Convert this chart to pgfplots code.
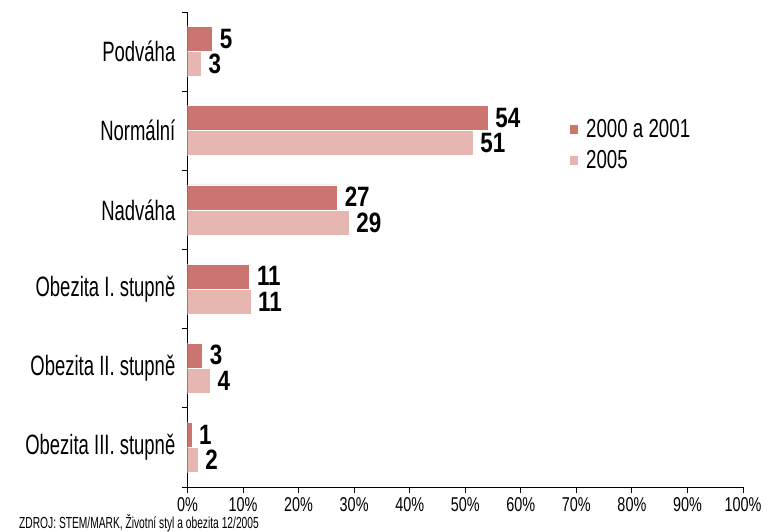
\documentclass[border=0pt]{standalone}
\usepackage{pgfplots}
\pgfplotsset{compat=1.18}
\usepackage{pgfplotstable}
\usepackage{fontspec}
\setmainfont{Liberation Sans}
\newfontfamily\fcat{Liberation Sans}[FakeStretch=0.66]
\newfontfamily\ftick{Liberation Sans}[FakeStretch=0.72]
\newfontfamily\fval{Liberation Sans}[FakeStretch=0.8]
\newfontfamily\fsrc{Liberation Sans}[FakeStretch=0.64]
\definecolor{darkc}{RGB}{204,116,112}
\definecolor{lightc}{RGB}{230,182,177}

\pgfplotstableread{
y x lab
5 4.5 5
4 54.1 54
3 27.0 27
2 11.2 11
1 2.7 3
0 0.8 1
}\dataA
\pgfplotstableread{
y x lab
5 2.5 3
4 51.4 51
3 29.1 29
2 11.4 11
1 4.1 4
0 1.9 2
}\dataB

\begin{document}
\begin{tikzpicture}
\begin{axis}[
  at={(187.5pt,44pt)}, anchor=south west,
  scale only axis, width=555.5pt, height=475pt,
  xmin=0, xmax=100, ymin=-0.5, ymax=5.5,
  axis x line*=bottom, axis y line*=left,
  axis line style={black, line width=0.9pt},
  every tick/.style={black, line width=0.9pt},
  tick align=outside, major tick length=6pt,
  xtick={0,10,...,100},
  xticklabels={0\%,10\%,20\%,30\%,40\%,50\%,60\%,70\%,80\%,90\%,100\%},
  xticklabel style={font=\ftick\fontsize{20}{20}\selectfont, inner sep=0pt, yshift=-4pt},
  ytick={-0.5,0.5,...,5.5},
  y tick label as interval,
  yticklabels={Obezita III. stupně, Obezita II. stupně, Obezita I. stupně, Nadváha, Normální, Podváha},
  yticklabel style={font=\fcat\fontsize{28}{28}\selectfont, anchor=east, inner sep=0pt, xshift=-6pt},
  legend style={draw=none, fill=none, at={(rel axis cs:0.683,0.78)}, anchor=north west,
    font=\ftick\fontsize{26}{26}\selectfont, row sep=9pt, column sep=7pt,
    nodes={inner sep=1pt}},
  legend cell align=left,
  legend image code/.code={\fill[#1,draw=none] (0pt,-4.5pt) rectangle (8pt,4.5pt);},
  nodes near coords,
  point meta=explicit symbolic,
  every node near coord/.append style={font=\fval\bfseries\fontsize{28}{28}\selectfont, black, anchor=west, inner sep=0pt, xshift=7pt},
]
\addplot[xbar, fill=darkc, draw=white, line width=0.6pt, bar width=25pt, bar shift=12.5pt,
  every node near coord/.append style={yshift=13pt}]
  table[x=x, y=y, meta=lab]{\dataA};
\addlegendentry{2000 a 2001}
\addplot[xbar, fill=lightc, draw=white, line width=0.6pt, bar width=25pt, bar shift=-12.5pt,
  every node near coord/.append style={yshift=-12.5pt}]
  table[x=x, y=y, meta=lab]{\dataB};
\addlegendentry{2005}
\end{axis}
\node[anchor=base west, inner sep=0pt, font=\fsrc\fontsize{16}{16}\selectfont] at (19pt,3pt) {ZDROJ: STEM/MARK, Životní styl a obezita 12/2005};
\pgfresetboundingbox
\path (0pt,0pt) rectangle (783pt,531pt);
\end{tikzpicture}
\end{document}
